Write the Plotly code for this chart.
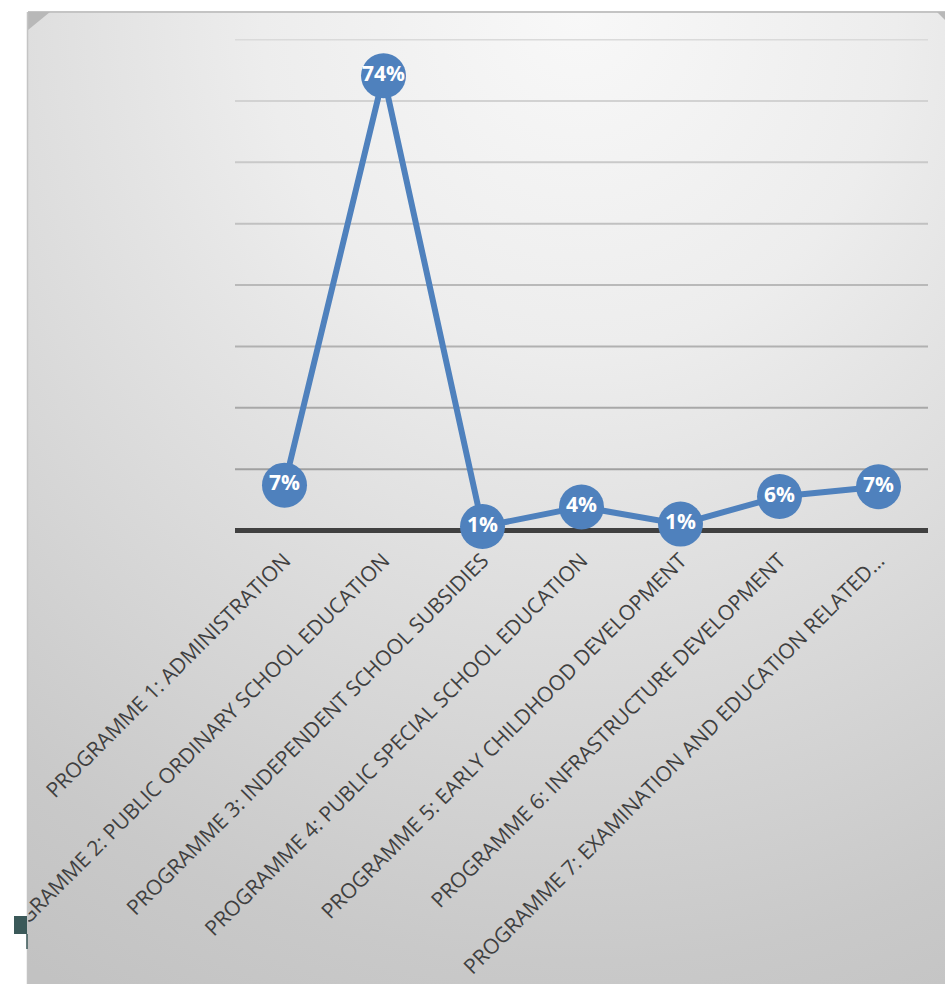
import base64
import plotly.graph_objects as go

categories = [
    "PROGRAMME 1: ADMINISTRATION",
    "PROGRAMME 2: PUBLIC ORDINARY SCHOOL EDUCATION",
    "PROGRAMME 3: INDEPENDENT SCHOOL SUBSIDIES",
    "PROGRAMME 4: PUBLIC SPECIAL SCHOOL EDUCATION",
    "PROGRAMME 5: EARLY CHILDHOOD DEVELOPMENT",
    "PROGRAMME 6: INFRASTRUCTURE DEVELOPMENT",
    "PROGRAMME 7: EXAMINATION AND EDUCATION RELATED\u2026",
]
values = [7.4, 74.1, 0.65, 3.85, 1.05, 5.55, 7.15]
labels = [f"{round(v)}%" for v in values]
grid_ticks = [10, 20, 30, 40, 50, 60, 70, 80]

Y_MIN, Y_MAX = -0.4, 80.1
W_PX, H_PX = 945, 984
L, R, T, B = 235, 17, 39, 451
PW = W_PX - L - R
PH = H_PX - T - B


def xp(px):
    return (px - L) / PW


def yp(py):
    return (H_PX - B - py) / PH


def grid_color(v):
    # lighter towards the top, darker towards the bottom
    f = (v - 10) / 70
    c = int(round(0xa0 + f * (0xda - 0xa0)))
    return f"rgb({c},{c},{c})"


svg = (
    '<svg xmlns="http://www.w3.org/2000/svg" width="917" height="972" '
    'viewBox="0 0 917 972" preserveAspectRatio="none">'
    '<defs><radialGradient id="g" cx="0.6" cy="0.0" r="1.15" gradientUnits="objectBoundingBox">'
    '<stop offset="0" stop-color="#f8f8f8"/>'
    '<stop offset="0.3" stop-color="#ededed"/>'
    '<stop offset="0.45" stop-color="#e3e3e3"/>'
    '<stop offset="0.85" stop-color="#c9c9c9"/>'
    '<stop offset="1" stop-color="#c2c2c2"/>'
    '</radialGradient></defs>'
    '<rect x="0" y="0" width="917" height="972" fill="url(#g)"/></svg>'
)
src = "data:image/svg+xml;base64," + base64.b64encode(svg.encode()).decode()

fig = go.Figure()
fig.add_trace(go.Scatter(
    x=categories, y=values, mode="lines+markers+text",
    text=labels, textposition="middle center",
    textfont=dict(family="Open Sans", size=21, color="white", weight="bold"),
    line=dict(color="#4f81bd", width=6),
    marker=dict(size=45, color="#4f81bd"),
    cliponaxis=False, hoverinfo="skip", showlegend=False,
))

shapes = []
for v in grid_ticks:
    shapes.append(dict(type="line", xref="paper", yref="y", x0=0, x1=1, y0=v, y1=v,
                       line=dict(color=grid_color(v), width=2), layer="below"))

shapes += [
    # top panel border
    dict(type="line", xref="paper", yref="paper", x0=xp(28), x1=xp(945), y0=yp(12), y1=yp(12),
         line=dict(color="#c4c4c4", width=2), layer="below"),
    # folded corners
    dict(type="path", xref="paper", yref="paper",
         path=f"M {xp(28)},{yp(12)} L {xp(50)},{yp(12)} L {xp(28)},{yp(30)} Z",
         fillcolor="#b8b8b8", line=dict(width=0), layer="below"),
    dict(type="path", xref="paper", yref="paper",
         path=f"M {xp(937)},{yp(12)} L {xp(946)},{yp(12)} L {xp(946)},{yp(21)} Z",
         fillcolor="#b8b8b8", line=dict(width=0), layer="below"),
    # white strip on the left clipping labels
    dict(type="rect", xref="paper", yref="paper", x0=xp(-2), x1=xp(27), y0=yp(-2), y1=yp(986),
         fillcolor="white", line=dict(width=0), layer="above"),
    dict(type="line", xref="paper", yref="paper", x0=xp(27.5), x1=xp(27.5), y0=yp(12), y1=yp(984),
         line=dict(color="#c4c4c4", width=1.5), layer="above"),
    # legend key remnant
    dict(type="rect", xref="paper", yref="paper", x0=xp(14), x1=xp(27), y0=yp(916), y1=yp(934),
         fillcolor="#3b5959", line=dict(width=0), layer="above"),
    dict(type="line", xref="paper", yref="paper", x0=xp(27), x1=xp(27), y0=yp(934), y1=yp(949),
         line=dict(color="#3b5959", width=1.5), layer="above"),
]

fig.update_layout(
    width=W_PX, height=H_PX,
    margin=dict(l=L, r=R, t=T, b=B, autoexpand=False),
    paper_bgcolor="white", plot_bgcolor="rgba(0,0,0,0)",
    images=[dict(source=src, xref="paper", yref="paper", x=xp(28), y=yp(12),
                 sizex=xp(946) - xp(28), sizey=yp(12) - yp(984),
                 xanchor="left", yanchor="top", sizing="stretch", layer="below")],
    shapes=shapes,
    showlegend=False,
    xaxis=dict(type="category", range=[-0.5, 6.5], tickangle=-45, automargin=False,
               tickfont=dict(family="Open Sans", size=21, color="#404040"),
               showline=False,
               ticks="outside", ticklen=6, tickcolor="rgba(0,0,0,0)",
               showgrid=False, zeroline=False, fixedrange=True),
    yaxis=dict(range=[Y_MIN, Y_MAX], showticklabels=False, showgrid=False, automargin=False,
               zeroline=True, zerolinecolor="#404040", zerolinewidth=5,
               showline=False, fixedrange=True),
)

fig.write_html("out.html")
